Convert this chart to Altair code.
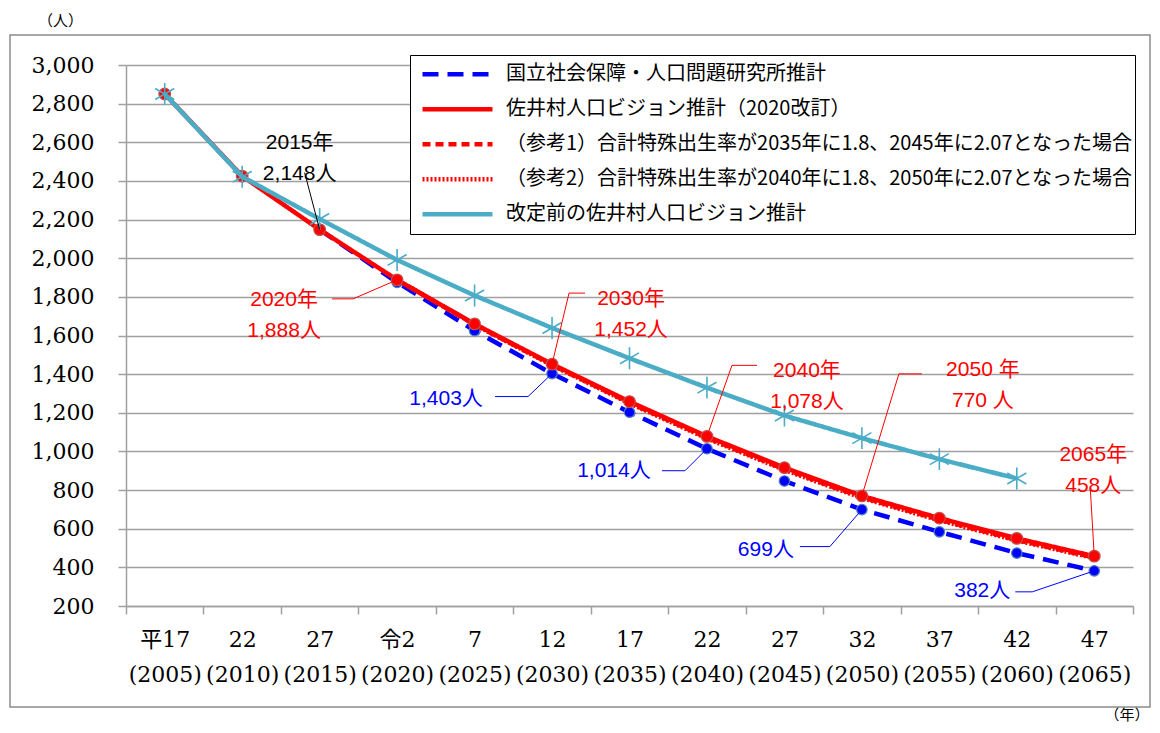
import json
import pandas as pd
import altair as alt

# ---- data ----
years = [2005, 2010, 2015, 2020, 2025, 2030, 2035, 2040, 2045, 2050, 2055, 2060, 2065]
era_labels = ["平17", "22", "27", "令2", "7", "12", "17", "22", "27", "32", "37", "42", "47"]

series_names = [
    "国立社会保障・人口問題研究所推計",
    "佐井村人口ビジョン推計（2020改訂）",
    "（参考1）合計特殊出生率が2035年に1.8、2045年に2.07となった場合",
    "（参考2）合計特殊出生率が2040年に1.8、2050年に2.07となった場合",
    "改定前の佐井村人口ビジョン推計",
]
ipss = [None, None, 2148, 1875, 1625, 1403, 1203, 1014, 847, 699, 584, 474, 382]
vision_2020 = [2850, 2425, 2148, 1888, 1660, 1452, 1258, 1078, 916, 770, 655, 550, 458]
ref_case1 = [None, None, None, 1888, 1657, 1448, 1252, 1071, 908, 763, 647, 542, 451]
ref_case2 = [None, None, None, 1888, 1656, 1446, 1249, 1067, 904, 759, 643, 539, 448]
vision_old = [2850, 2422, 2203, 1991, 1807, 1639, 1482, 1330, 1186, 1069, 960, 860, None]

callout_texts = ["2015年\n2,148人", "2020年\n1,888人", "2030年\n1,452人", "1,403人",
                 "2040年\n1,078人", "1,014人", "2050 年\n770 人", "699人",
                 "2065年\n458人", "382人"]
callout_years = [2015, 2020, 2030, 2030, 2040, 2040, 2050, 2050, 2065, 2065]
callout_values = [2148, 1888, 1452, 1403, 1078, 1014, 770, 699, 458, 382]
callout_colors = ["#000000", "#FF0000", "#FF0000", "#0000FF", "#FF0000",
                  "#0000FF", "#FF0000", "#0000FF", "#FF0000", "#0000FF"]

# ---- layout (pixels) ----
W, H = 1007, 541
X_DOMAIN = [2002.5, 2067.5]
Y_DOMAIN = [200, 3000]
PX_PER_YEAR = W / (X_DOMAIN[1] - X_DOMAIN[0])
VAL_PER_PX = (Y_DOMAIN[1] - Y_DOMAIN[0]) / H

text_offsets = [(-20, -87), (-113, 20), (79, -65), (-106, 25), (100, -65),
                (-93, 22), (121, -126), (-96, 40), (-1, -101), (-112, 20)]
leader_paths = [
    [(-15, -57)],
    [(-44, 19), (-65, 19)],
    [(17, -71), (33, -71)],
    [(-24, 23), (-57, 23)],
    [(25, -71), (50, -71)],
    [(-22, 22), (-45, 22)],
    [(37, -122), (60, -122)],
    [(-32, 37), (-62, 37)],
    [(-4, -68)],
    [(-62, 21), (-79, 21)],
]

# ---- tables ----
rows = []
for name, vals in zip(series_names, [ipss, vision_2020, ref_case1, ref_case2, vision_old]):
    for yr, v in zip(years, vals):
        if v is not None:
            rows.append({"系列": name, "year": yr, "value": v})
df = pd.DataFrame(rows)

text_rows, leader_rows = [], []
for i, (t, yr, v, c) in enumerate(zip(callout_texts, callout_years, callout_values, callout_colors)):
    dx, dy = text_offsets[i]
    text_rows.append({"t": t, "year": yr + dx / PX_PER_YEAR,
                      "value": v - dy * VAL_PER_PX, "c": c})
    pts = [(0, 0)] + leader_paths[i]
    for k, (px, py) in enumerate(pts):
        leader_rows.append({"id": i, "k": k, "year": yr + px / PX_PER_YEAR,
                            "value": v - py * VAL_PER_PX, "c": c})
text_df = pd.DataFrame(text_rows)
leader_df = pd.DataFrame(leader_rows)

# ---- axes ----
edges = [X_DOMAIN[0] + 5 * i for i in range(14)]
label_arr = [[e, "(%d)" % y] for e, y in zip(era_labels, years)] + [[""]]
label_expr = json.dumps(label_arr, ensure_ascii=False) + "[round((datum.value - 2002.5) / 5)]"

x_enc = alt.X(
    "year:Q",
    scale=alt.Scale(domain=X_DOMAIN, nice=False, zero=False),
    axis=alt.Axis(
        values=edges, labelExpr=label_expr, labelOffset=PX_PER_YEAR * 2.5,
        labelOverlap=False, labelBound=False, labelFlush=False,
        labelFont="DejaVu Serif, Noto Sans CJK JP", labelFontSize=22, labelColor="black",
        labelLineHeight=35, labelPadding=15, tickSize=8, grid=False,
        title="（年）", titleX=1023, titleY=108, titleAngle=0,
        titleFont="Noto Sans CJK JP", titleFontSize=15, titleFontWeight="normal",
        titleAlign="right", titleBaseline="middle",
    ),
)
y_enc = alt.Y(
    "value:Q",
    scale=alt.Scale(domain=Y_DOMAIN, nice=False, zero=False),
    axis=alt.Axis(
        values=list(range(200, 3001, 200)), format=",d",
        labelOverlap=False, labelBound=False, labelFlush=False,
        labelFont="DejaVu Serif", labelFontSize=22, labelColor="black",
        labelPadding=24, tickSize=8, grid=True,
        title="（人）", titleX=-66, titleY=-45, titleAngle=0,
        titleFont="Noto Sans CJK JP", titleFontSize=15, titleFontWeight="normal",
        titleAlign="center", titleBaseline="middle",
    ),
)

legend = alt.Legend(
    orient="none", legendX=284, legendY=-10, title=None,
    symbolType="stroke", symbolSize=4900, clipHeight=34.5, symbolOffset=8,
    labelFont="Noto Sans CJK JP", labelFontSize=20, labelColor="black",
    labelOffset=11, padding=2, rowPadding=0,
    strokeColor="black", fillColor="white", labelLimit=800,
)
color_enc = alt.Color("系列:N", scale=alt.Scale(
    domain=series_names,
    range=["#0000FF", "#FF0000", "#FF0000", "#FF0000", "#4BACC6"]), legend=legend)
dash_enc = alt.StrokeDash("系列:N", scale=alt.Scale(
    domain=series_names,
    range=[[16, 9], [1, 0], [8, 5], [2, 2], [1, 0]]), legend=legend)
width_enc = alt.StrokeWidth("系列:N", scale=alt.Scale(
    domain=series_names, range=[4.5, 4.5, 2, 2, 6]), legend=legend)

base = alt.Chart(df)


def series_line(name):
    return base.transform_filter(alt.datum["系列"] == name).mark_line().encode(
        x=x_enc, y=y_enc, color=color_enc, strokeDash=dash_enc, strokeWidth=width_enc)


frame = alt.Chart(pd.DataFrame({"a": [0]})).mark_rect(
    fill="white", fillOpacity=0, stroke="#8C8C8C", strokeWidth=1.5
).encode(x=alt.value(-116), x2=alt.value(1024), y=alt.value(-30), y2=alt.value(642))

blue_pts = base.transform_filter(alt.datum["系列"] == series_names[0]).mark_circle(
    size=110, color="#0000FF", stroke="#4F81BD", strokeWidth=1.2, opacity=1
).encode(x=x_enc, y=y_enc)
red_pts = base.transform_filter(alt.datum["系列"] == series_names[1]).mark_circle(
    size=135, color="#FF0000", stroke="#C0504D", strokeWidth=1.2, opacity=1
).encode(x=x_enc, y=y_enc)
star = "M0,-1L0,1M-0.87,-0.5L0.87,0.5M-0.87,0.5L0.87,-0.5"
cyan_pts = base.transform_filter(alt.datum["系列"] == series_names[4]).mark_point(
    shape=star, size=480, filled=False, color="#4BACC6", strokeWidth=1.6, opacity=1
).encode(x=x_enc, y=y_enc)

leaders = alt.Chart(leader_df).mark_line(strokeWidth=1).encode(
    x=x_enc, y=y_enc, detail="id:N", order="k:Q",
    stroke=alt.Stroke("c:N", scale=None))
labels = alt.Chart(text_df).mark_text(
    font="Liberation Sans, Noto Sans CJK JP", fontSize=21, lineBreak="\n",
    lineHeight=31, align="center", baseline="middle"
).encode(x=x_enc, y=y_enc, text="t:N", fill=alt.Fill("c:N", scale=None))

chart = alt.layer(
    frame,
    series_line(series_names[0]), blue_pts,
    series_line(series_names[2]), series_line(series_names[3]),
    series_line(series_names[1]), red_pts,
    series_line(series_names[4]), cyan_pts,
    leaders, labels,
).properties(
    width=W, height=H,
    autosize=alt.AutoSizeParams(type="none"),
    padding={"left": 118, "top": 57, "right": 19, "bottom": 119},
    background="white",
).configure_view(stroke=None).configure_axis(
    gridColor="#A0A0A0", gridWidth=1.5, domainColor="#A0A0A0", domainWidth=1.5,
    tickColor="#A0A0A0", tickWidth=1.5,
)

chart.save("out.html", embed_options={"renderer": "svg", "actions": False})
